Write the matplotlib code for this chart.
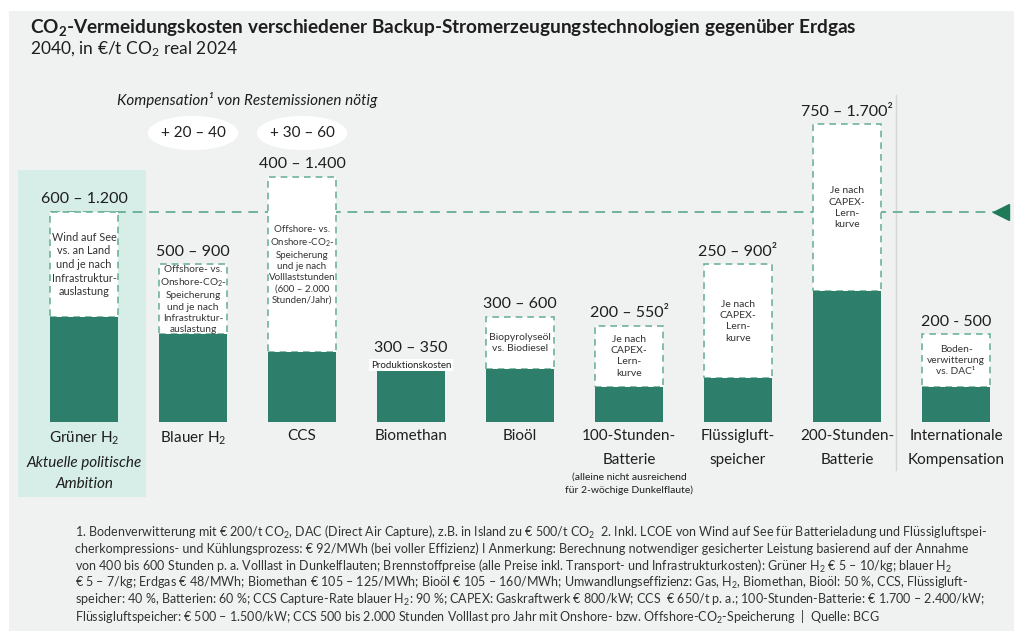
import matplotlib.pyplot as plt
from matplotlib.patches import Rectangle, Ellipse

plt.rcParams['font.family'] = ['Lato', 'DejaVu Sans']
plt.rcParams['mathtext.fontset'] = 'custom'
plt.rcParams['mathtext.rm'] = 'Lato'
plt.rcParams['mathtext.it'] = 'Lato:italic'
plt.rcParams['mathtext.bf'] = 'Lato:bold'
plt.rcParams['mathtext.default'] = 'regular'

# Daten
categories = ['Grüner H$_2$', 'Blauer H$_2$', 'CCS', 'Biomethan', 'Bioöl',
              '100-Stunden-\nBatterie', 'Flüssigluft-\nspeicher',
              '200-Stunden-\nBatterie', 'Internationale\nKompensation']
low = [600, 500, 400, 300, 300, 200, 250, 750, 200]
high = [1200, 900, 1400, 350, 600, 550, 900, 1700, 500]
range_labels = ['600 – 1.200', '500 – 900', '400 – 1.400', '300 – 350',
                '300 – 600', '200 – 550²', '250 – 900²', '750 – 1.700²',
                '200 - 500']
box_texts = ['Wind auf See\nvs. an Land\nund je nach\nInfrastruktur-\nauslastung',
             'Offshore- vs.\nOnshore-CO$_2$-\nSpeicherung\nund je nach\nInfrastruktur-\nauslastung',
             'Offshore- vs.\nOnshore-CO$_2$-\nSpeicherung\nund je nach\nVolllaststunden\n(600 – 2.000\nStunden/Jahr)',
             None,
             'Biopyrolyseöl\nvs. Biodiesel',
             'Je nach\nCAPEX-\nLern-\nkurve',
             'Je nach\nCAPEX-\nLern-\nkurve',
             'Je nach\nCAPEX-\nLern-\nkurve',
             'Boden-\nverwitterung\nvs. DAC¹']
box_sizes = [7.8, 7.3, 7.0, 7, 7.5, 7.5, 7.5, 7.5, 7.3]
ambition = 1200  # Aktuelle politische Ambition (Grüner H2 Obergrenze)
kompensation = ['+ 20 – 40', '+ 30 – 60']  # für Blauer H2 und CCS

footnote = [
    '1. Bodenverwitterung mit € 200/t CO$_2$, DAC (Direct Air Capture), z.B. in Island zu € 500/t CO$_2$  2. Inkl. LCOE von Wind auf See für Batterieladung und Flüssigluftspei-',
    'cherkompressions- und Kühlungsprozess: € 92/MWh (bei voller Effizienz) I Anmerkung: Berechnung notwendiger gesicherter Leistung basierend auf der Annahme',
    'von 400 bis 600 Stunden p. a. Volllast in Dunkelflauten; Brennstoffpreise (alle Preise inkl. Transport- und Infrastrukturkosten): Grüner H$_2$ € 5 – 10/kg; blauer H$_2$',
    '€ 5 – 7/kg; Erdgas € 48/MWh; Biomethan € 105 – 125/MWh; Bioöl € 105 – 160/MWh; Umwandlungseffizienz: Gas, H$_2$, Biomethan, Bioöl: 50 %, CCS, Flüssigluft-',
    'speicher: 40 %, Batterien: 60 %; CCS Capture-Rate blauer H$_2$: 90 %; CAPEX: Gaskraftwerk € 800/kW; CCS  € 650/t p. a.; 100-Stunden-Batterie: € 1.700 – 2.400/kW;',
    'Flüssigluftspeicher: € 500 – 1.500/kW; CCS 500 bis 2.000 Stunden Volllast pro Jahr mit Onshore- bzw. Offshore-CO$_2$-Speicherung  |  Quelle: BCG',
]

dark = '#2d7f6b'
dash = '#6fb39a'
mint = '#d6eee7'
bg = '#f0f2f1'
txt = '#1e1e1e'

fig = plt.figure(figsize=(10.14, 6.31), dpi=100)
fig.patch.set_facecolor('white')
fig.patches.append(Rectangle((9 / 1014, 0), 1, 1 - 11 / 631, transform=fig.transFigure,
                             facecolor=bg, edgecolor='none', zorder=-10))

ax = fig.add_axes([0, 0, 1, 1])
ax.set_facecolor('none')
ax.axis('off')
ax.set_xlim(-0.771, 8.532)
ax.set_ylim(-1194, 2411)

x = list(range(len(categories)))
w = 0.63

# Hervorhebung Grüner H2
ax.add_patch(Rectangle((-0.606, -429), 1.175, 1869, facecolor=mint, edgecolor='none', zorder=0))
# Trennlinie
ax.plot([7.45, 7.45], [-274, 1869], color='#d3d7d5', lw=1, zorder=1)

# Ambitionslinie
ax.plot([-0.31, 8.36], [ambition, ambition], color=dash, lw=1.4, ls=(0, (5, 3.5)), zorder=1)
ax.plot(8.41, ambition, marker='<', markersize=12, color='#1f7a58', zorder=2)

for i in x:
    if box_texts[i] is not None:
        ax.bar(i, high[i] - low[i], bottom=low[i], width=w, facecolor='white',
               edgecolor=dash, linestyle=(0, (4, 3)), linewidth=1.2, zorder=3)
        ax.text(i, (low[i] + high[i]) / 2, box_texts[i], ha='center', va='center',
                fontsize=box_sizes[i], color='#333333', linespacing=1.3, zorder=5)
    ax.bar(i, low[i], width=w, color=dark, zorder=4)
    ax.annotate(range_labels[i], (i, high[i]), xytext=(0, 4), textcoords='offset points',
                ha='center', va='bottom', fontsize=11.5, color=txt, zorder=5)
    ax.text(i, -42, categories[i], ha='center', va='top', fontsize=11, color=txt,
            linespacing=1.9)

# Biomethan Produktionskosten
ax.text(3, 325, 'Produktionskosten', ha='center', va='center', fontsize=7, color=txt,
        bbox=dict(facecolor='white', edgecolor='none', pad=1), zorder=5)

ax.text(0, -196, 'Aktuelle politische\nAmbition', ha='center', va='top', fontsize=11,
        style='italic', color=txt, linespacing=1.6)
ax.text(5, -290, '(alleine nicht ausreichend\nfür 2-wöchige Dunkelflaute)', ha='center',
        va='top', fontsize=7.5, color=txt, linespacing=1.45)

# Kompensation
ax.text(1.5, 1840, 'Kompensation¹ von Restemissionen nötig', ha='center', va='center',
        fontsize=11, style='italic', color=txt)
for i, k in zip([1, 2], kompensation):
    ax.add_patch(Ellipse((i, 1651), 0.83, 195, facecolor='white', edgecolor='none', zorder=2))
    ax.text(i, 1651, k, ha='center', va='center', fontsize=11, color=txt, zorder=3)

# Titel
fig.text(30 / 1014, 1 - 27 / 631,
         r'CO$_\mathbf{2}$-Vermeidungskosten verschiedener Backup-Stromerzeugungstechnologien gegenüber Erdgas',
         fontsize=13.7, fontweight='bold', color=txt, va='center')
fig.text(30 / 1014, 1 - 49 / 631, '2040, in €/t CO$_2$ real 2024', fontsize=12.5,
         color=txt, va='center')

# Fußnoten
for j, line in enumerate(footnote):
    fig.text(75 / 1014, 1 - (532 + 17 * j) / 631, line, fontsize=9.0, color='#333333',
             va='center')

plt.savefig('out.png', dpi=100, facecolor=fig.get_facecolor())
